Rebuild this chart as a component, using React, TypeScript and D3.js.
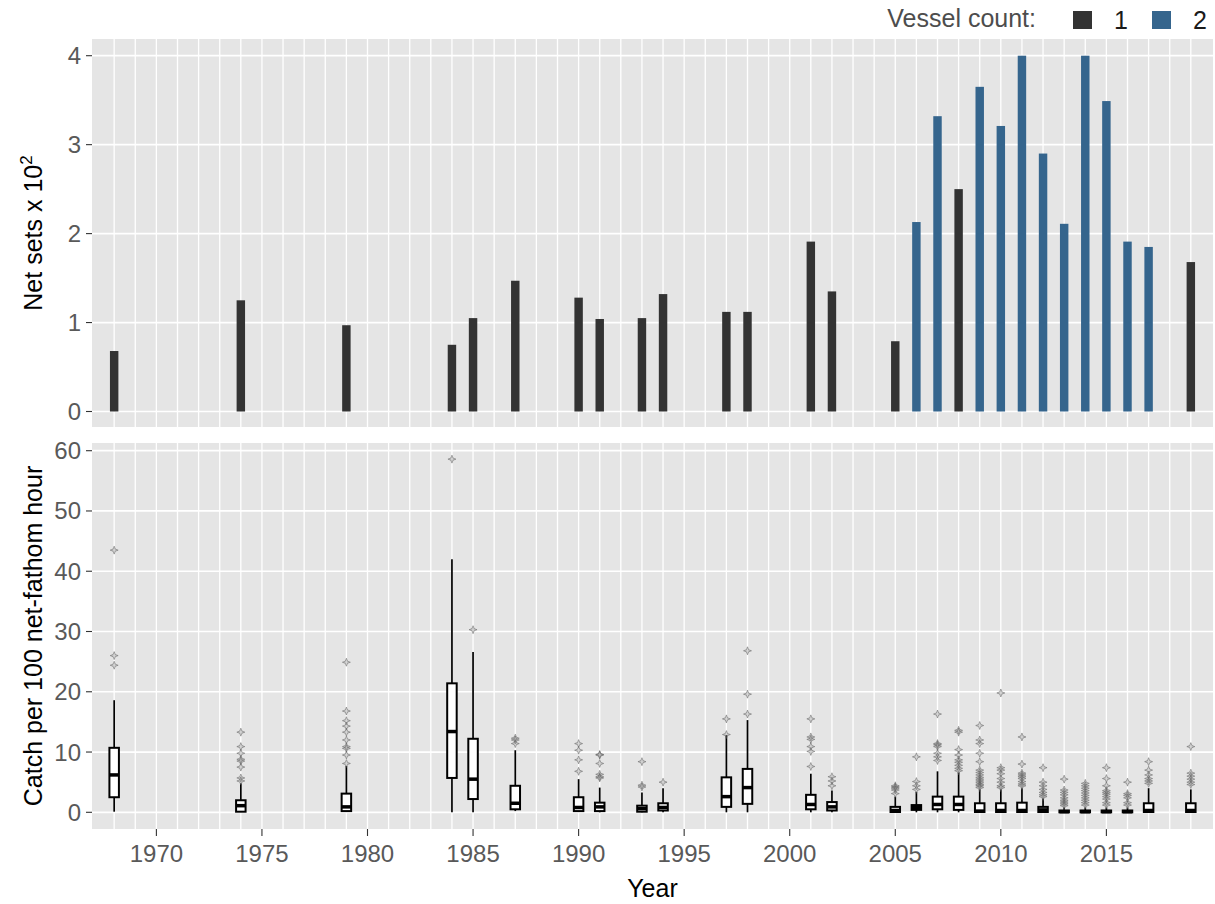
import React from "react";
import * as d3 from "d3";

const years = [1968, 1974, 1979, 1984, 1985, 1987, 1990, 1991, 1993, 1994, 1997, 1998, 2001, 2002, 2005, 2006, 2007, 2008, 2009, 2010, 2011, 2012, 2013, 2014, 2015, 2016, 2017, 2019];
const netSets = [0.68, 1.25, 0.97, 0.75, 1.05, 1.47, 1.28, 1.04, 1.05, 1.32, 1.12, 1.12, 1.91, 1.35, 0.79, 2.13, 3.32, 2.5, 3.65, 3.21, 4.0, 2.9, 2.11, 4.0, 3.49, 1.91, 1.85, 1.68];
const vessels = [1, 1, 1, 1, 1, 1, 1, 1, 1, 1, 1, 1, 1, 1, 1, 2, 2, 1, 2, 2, 2, 2, 2, 2, 2, 2, 2, 1];

// box stats: [lower whisker, q1, median, q3, upper whisker]
const boxStats = [
  [0.1, 2.5, 6.2, 10.7, 18.6],
  [0.1, 0.1, 1.1, 2.0, 4.8],
  [0.1, 0.2, 0.9, 3.1, 7.7],
  [0, 5.7, 13.4, 21.4, 42.0],
  [0, 2.2, 5.5, 12.2, 26.6],
  [0.2, 0.5, 1.5, 4.4, 10.3],
  [0.1, 0.2, 0.8, 2.5, 5.5],
  [0, 0.2, 0.9, 1.6, 4.1],
  [0, 0.1, 0.6, 1.1, 3.3],
  [0, 0.3, 0.8, 1.5, 4.0],
  [0, 0.9, 2.6, 5.8, 12.8],
  [0, 1.4, 4.1, 7.2, 15.3],
  [0, 0.5, 1.3, 2.9, 6.4],
  [0, 0.3, 0.9, 1.7, 3.6],
  [0, 0.05, 0.3, 0.9, 2.6],
  [0, 0.4, 0.8, 1.2, 3.4],
  [0, 0.5, 1.3, 2.6, 6.8],
  [0, 0.4, 1.3, 2.6, 6.6],
  [0, 0.05, 0.2, 1.5, 3.8],
  [0, 0.05, 0.3, 1.5, 3.8],
  [0, 0.05, 0.3, 1.6, 4.0],
  [0, 0.05, 0.4, 0.9, 2.3],
  [0, 0, 0.1, 0.3, 0.8],
  [0, 0, 0.1, 0.3, 0.8],
  [0, 0, 0.1, 0.3, 0.8],
  [0, 0, 0.1, 0.3, 0.8],
  [0, 0.05, 0.3, 1.5, 4.0],
  [0, 0.05, 0.3, 1.5, 3.8],
];

const outliers = [
  [43.5, 26.0, 24.4],
  [13.3, 10.9, 9.8, 8.8, 8.5, 7.5, 5.7, 5.2],
  [24.9, 16.8, 15.2, 14.3, 13.3, 12.0, 10.9, 10.6, 9.5, 8.1],
  [58.6],
  [30.3],
  [12.3, 12.0, 11.4],
  [11.4, 10.3, 8.7, 6.8],
  [9.6, 9.5, 8.1, 6.3, 5.9, 5.7],
  [8.4, 4.5, 4.2],
  [5.0],
  [15.5, 12.9],
  [26.8, 19.6, 16.3],
  [15.5, 12.5, 12.1, 10.9, 10.1, 7.6],
  [5.9, 5.2, 4.4],
  [4.4, 4.2, 4.0, 3.7, 3.1],
  [9.2, 5.1, 4.4, 3.8],
  [16.3, 11.4, 11.2, 10.9, 9.8, 9.2, 8.6],
  [13.6, 13.3, 10.4, 9.5, 8.7, 8.3, 7.8, 7.3, 6.9],
  [14.4, 12.0, 11.4, 9.8, 8.4, 7.0, 6.6, 6.2, 5.8, 5.5, 5.2, 4.9, 4.6, 4.4, 4.1],
  [19.8, 7.4, 7.0, 6.4, 5.6, 5.0, 4.4, 4.1],
  [12.5, 8.0, 6.5, 6.2, 5.9, 5.6, 5.1, 4.7, 4.4],
  [7.4, 5.0, 4.4, 3.8, 3.3, 2.9, 2.6],
  [5.5, 3.7, 3.3, 2.9, 2.4, 2.0, 1.7, 1.4, 1.1],
  [4.8, 4.4, 4.0, 3.6, 3.2, 2.8, 2.4, 2.0, 1.6, 1.2],
  [7.4, 5.6, 4.4, 3.6, 3.3, 3.0, 2.6, 2.2, 1.6, 1.2],
  [5.0, 3.1, 2.8, 2.4, 1.6, 1.2],
  [8.4, 7.0, 6.2, 5.6, 5.2, 4.8],
  [10.9, 6.5, 6.0, 5.5, 5.0, 4.6],
];

const xTicks = [1970, 1975, 1980, 1985, 1990, 1995, 2000, 2005, 2010, 2015];
const topTicks = [0, 1, 2, 3, 4];
const bottomTicks = [0, 10, 20, 30, 40, 50, 60];
const gridYears = d3.range(1968, 2020);
const legendKeys = ["1", "2"];

const COLORS: Record<string, string> = { "1": "#333333", "2": "#35658D" };
const FONT = "Liberation Sans, Arial, sans-serif";
const TICK_COL = "#595959";

export default function App() {
  const x = d3.scaleLinear().domain([1966.95, 2020.05]).range([92, 1213]);
  const yTop = d3.scaleLinear().domain([0, 4]).range([411.5, 55.7]);
  const yBot = d3.scaleLinear().domain([0, 60]).range([812.3, 450.7]);
  const top = { y0: 39, y1: 427 };
  const bot = { y0: 443, y1: 829 };
  const barW = x(1970.4) - x(1970);
  const boxW = x(1970.45) - x(1970);
  const left = 92, right = 1213;

  const star = "M0,-4L1.1,-1.1L4,0L1.1,1.1L0,4L-1.1,1.1L-4,0L-1.1,-1.1Z";

  return (
    <svg width={1215} height={904} style={{ position: "absolute", left: 0, top: 0, background: "#fff" }} fontFamily={FONT}>
      {/* Legend */}
      <text x={1036} y={27} fontSize={25} fill="#4D4D4D" textAnchor="end">Vessel count:</text>
      {legendKeys.map((k, i) => (
        <g key={k}>
          <rect x={1073 + i * 79} y={11} width={19} height={18} fill={COLORS[k]} />
          <text x={1114 + i * 79} y={29} fontSize={25} fill="#1a1a1a">{k}</text>
        </g>
      ))}

      {/* Top panel */}
      <rect x={left} y={top.y0} width={right - left} height={top.y1 - top.y0} fill="#E5E5E5" />
      {gridYears.map((yr) => (
        <line key={"tv" + yr} x1={x(yr)} x2={x(yr)} y1={top.y0} y2={top.y1} stroke="#fff" strokeWidth={1.3} />
      ))}
      {topTicks.map((t) => (
        <line key={"th" + t} x1={left} x2={right} y1={yTop(t)} y2={yTop(t)} stroke="#fff" strokeWidth={1.7} />
      ))}
      {years.map((yr, i) => (
        <rect key={"b" + yr} x={x(yr) - barW / 2} y={yTop(netSets[i])} width={barW} height={yTop(0) - yTop(netSets[i])} fill={COLORS[String(vessels[i])]} />
      ))}
      {topTicks.map((t) => (
        <g key={"tt" + t}>
          <line x1={86} x2={left} y1={yTop(t)} y2={yTop(t)} stroke="#333" strokeWidth={1.1} />
          <text x={81} y={yTop(t) + 8.5} fontSize={24} fill={TICK_COL} textAnchor="end">{t}</text>
        </g>
      ))}
      <text transform={`translate(42,${(top.y0 + top.y1) / 2}) rotate(-90)`} fontSize={25} fill="#000" textAnchor="middle">
        Net sets x 10<tspan dy={-10} fontSize={17}>2</tspan>
      </text>

      {/* Bottom panel */}
      <rect x={left} y={bot.y0} width={right - left} height={bot.y1 - bot.y0} fill="#E5E5E5" />
      {gridYears.map((yr) => (
        <line key={"bv" + yr} x1={x(yr)} x2={x(yr)} y1={bot.y0} y2={bot.y1} stroke="#fff" strokeWidth={1.3} />
      ))}
      {bottomTicks.map((t) => (
        <line key={"bh" + t} x1={left} x2={right} y1={yBot(t)} y2={yBot(t)} stroke="#fff" strokeWidth={1.7} />
      ))}
      {years.map((yr, i) => {
        const [lo, q1, med, q3, hi] = boxStats[i];
        const cx = x(yr);
        return (
          <g key={"bx" + yr}>
            <line x1={cx} x2={cx} y1={yBot(q3)} y2={yBot(hi)} stroke="#000" strokeWidth={1.7} />
            <line x1={cx} x2={cx} y1={yBot(q1)} y2={yBot(lo)} stroke="#000" strokeWidth={1.7} />
            <rect x={cx - boxW / 2} y={yBot(q3)} width={boxW} height={Math.max(0.5, yBot(q1) - yBot(q3))} fill="#fff" stroke="#000" strokeWidth={2} />
            <line x1={cx - boxW / 2} x2={cx + boxW / 2} y1={yBot(med)} y2={yBot(med)} stroke="#000" strokeWidth={3.5} />
            {outliers[i].map((v, j) => (
              <path key={j} d={star} transform={`translate(${cx},${yBot(v)})`} fill="#8a8a8a" fillOpacity={0.35} stroke="#555" strokeOpacity={0.45} strokeWidth={1} />
            ))}
          </g>
        );
      })}
      {bottomTicks.map((t) => (
        <g key={"bt" + t}>
          <line x1={86} x2={left} y1={yBot(t)} y2={yBot(t)} stroke="#333" strokeWidth={1.1} />
          <text x={81} y={yBot(t) + 8.5} fontSize={24} fill={TICK_COL} textAnchor="end">{t}</text>
        </g>
      ))}
      <text transform={`translate(42,${(bot.y0 + bot.y1) / 2}) rotate(-90)`} fontSize={25} fill="#000" textAnchor="middle">
        Catch per 100 net-fathom hour
      </text>

      {/* X axis */}
      {xTicks.map((t) => (
        <g key={"xt" + t}>
          <line x1={x(t)} x2={x(t)} y1={bot.y1} y2={bot.y1 + 7} stroke="#333" strokeWidth={1.1} />
          <text x={x(t)} y={862} fontSize={24} fill={TICK_COL} textAnchor="middle">{t}</text>
        </g>
      ))}
      <text x={(left + right) / 2} y={897} fontSize={25} fill="#000" textAnchor="middle">Year</text>
    </svg>
  );
}
